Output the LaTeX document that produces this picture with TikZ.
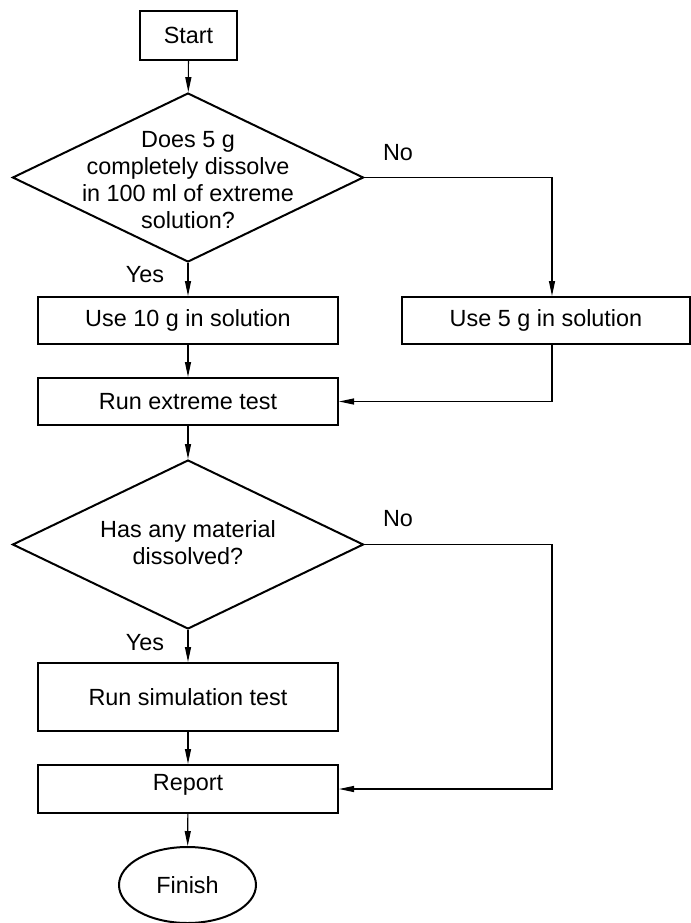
\documentclass[tikz,border=0pt]{standalone}
\usepackage{fontspec}
\setmainfont{Liberation Sans}
\usepackage{tikz}
\usetikzlibrary{arrows.meta,calc,positioning,shapes.geometric}

\begin{document}
\begin{tikzpicture}[x=0.5pt,y=-0.5pt,>=Stealth,
    font=\fontsize{11.7pt}{13.6pt}\selectfont,
    procbox/.style={draw,line width=1pt,inner sep=0pt,minimum width=150pt,minimum height=23.5pt},
    decision/.style={draw,diamond,line width=1pt,inner sep=0pt,minimum width=175.5pt,minimum height=84.5pt},
    endpoint/.style={draw,ellipse,line width=1pt,inner sep=0pt,minimum width=68.5pt,minimum height=38pt},
    flow/.style={line width=0.6pt,-{Triangle[length=7.5pt,width=3pt]}},
    plain/.style={line width=0.6pt}]
  % 画布
  \useasboundingbox (0,0) rectangle (691,923);
  % 主流程
  \node[procbox,minimum width=48.5pt,minimum height=24.5pt] (start) at (188.5,35.5) {Start};
  \node[decision] (q1) at (188,177.5) {};
  \node[align=center] (q1txt) at (188,180) {Does 5 g\\completely dissolve\\in 100 ml of extreme\\solution?};
  \node[procbox] (use10) at (188,320.5) {Use 10 g in solution};
  \node[procbox,minimum width=144pt] (use5) at (546,320.5) {Use 5 g in solution};
  \node[procbox] (run1) at (188,401.5) {Run extreme test};
  \node[decision] (q2) at (188,544.5) {};
  \node[align=center] (q2txt) at (188,542.5) {Has any material\\dissolved?};
  \node[procbox,minimum height=34pt] (sim) at (188,697) {Run simulation test};
  \node[procbox,minimum height=24pt] (report) at (188,789) {};
  \node (reptxt) at (188,785) {Report};
  \node[endpoint] (finish) at (187.5,885) {Finish};
  % 右侧支路
  \coordinate (rail) at (552,0);
  % 连线
  \draw[flow] (start) -- (q1);
  \draw[flow] (q1) -- (use10);
  \draw[flow] (use10) -- (run1);
  \draw[flow] (run1) -- (q2);
  \draw[flow] (q2) -- (sim);
  \draw[flow] (sim) -- (report);
  \draw[flow] (report) -- (finish);
  \draw[flow] (q1.east) -| (rail |- use5.north);
  \draw[flow] (rail |- use5.south) |- (run1.east);
  \draw[flow] (q2.east) -- (rail |- q2.east) |- (report.east);
  % 标注
  \node (yes1) at (145,275) {Yes};
  \node (no1) at (398,153) {No};
  \node (yes2) at (145,643) {Yes};
  \node (no2) at (398,519) {No};
\end{tikzpicture}
\end{document}
